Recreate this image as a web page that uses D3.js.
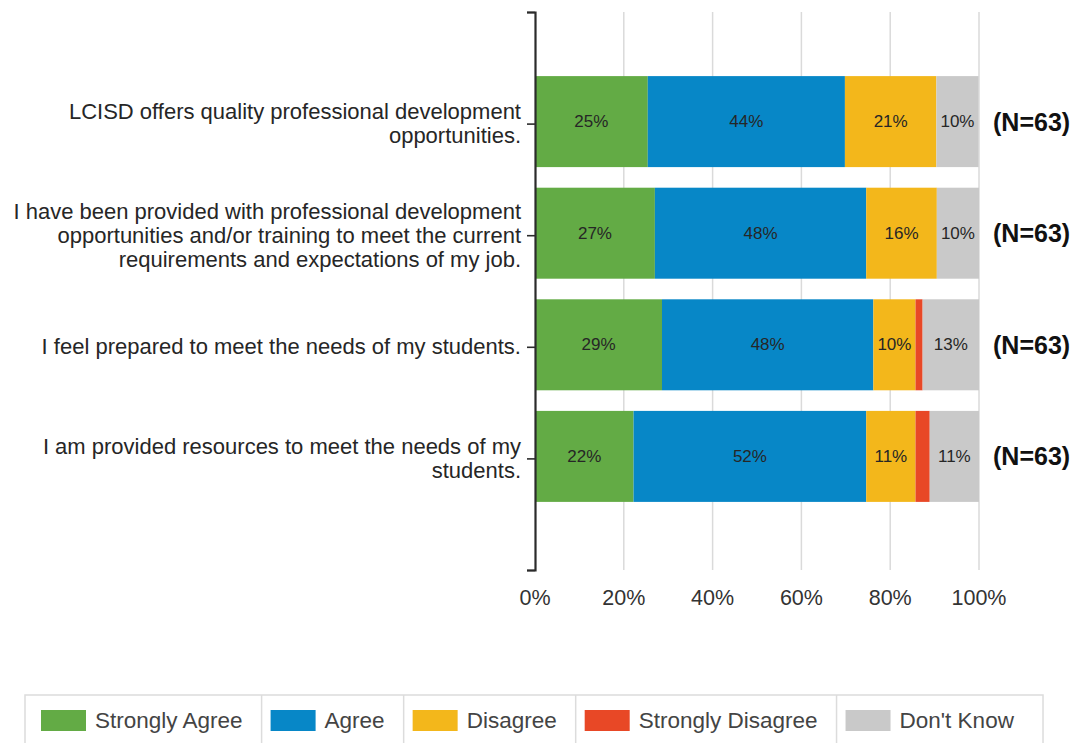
<!DOCTYPE html>
<html>
<head>
<meta charset="utf-8">
<script src="https://cdn.jsdelivr.net/npm/d3@7"></script>
<style>
  body { margin: 0; background: #fff; }
  svg { display: block; font-family: "Liberation Sans", Arial, sans-serif; }
</style>
</head>
<body>
<div id="chart"></div>
<script>
// survey statements, already broken into lines the way the report wraps them
let questions = [
  ["LCISD offers quality professional development", "opportunities."],
  ["I have been provided with professional development", "opportunities and/or training to meet the current", "requirements and expectations of my job."],
  ["I feel prepared to meet the needs of my students."],
  ["I am provided resources to meet the needs of my", "students."]
];
let responses = ["Strongly Agree", "Agree", "Disagree", "Strongly Disagree", "Don't Know"];
let colors = ["#63ab45", "#0787c7", "#f3b71b", "#e84826", "#c9c9c9"];

// percent of respondents per answer, one array per response
let stronglyAgree    = [25.4, 27.0, 28.6, 22.2];
let agree            = [44.4, 47.6, 47.6, 52.4];
let disagree         = [20.6, 15.9, 9.5, 11.1];
let stronglyDisagree = [0, 0, 1.6, 3.2];
let dontKnow         = [9.5, 9.5, 12.7, 11.1];
let nCounts = [63, 63, 63, 63];
let xTicks = [0, 20, 40, 60, 80, 100];

let width = 1074, height = 743;

const svg = d3.select("#chart")
  .append("svg")
  .attr("width", width)
  .attr("height", height);

let series = [stronglyAgree, agree, disagree, stronglyDisagree, dontKnow];

let x = d3.scaleLinear().domain([0, 100]).range([535, 979]);

// point scale: slot 0 and 5 are the empty ends of the axis
let y = d3.scalePoint().domain(d3.range(questions.length + 2)).range([12, 570]);
let barH = 91;

// grid
svg.append("g")
  .selectAll("line")
  .data(xTicks.slice(1))
  .join("line")
  .attr("x1", d => x(d)).attr("x2", d => x(d))
  .attr("y1", 12).attr("y2", 570)
  .attr("stroke", "#dadada")
  .attr("stroke-width", 1.5);

// stacked bars
questions.forEach((q, i) => {
  let cy = y(i + 1) - 2;
  let acc = 0;
  let g = svg.append("g");
  series.forEach((s, k) => {
    let v = s[i];
    if (v > 0) {
      g.append("rect")
        .attr("x", x(acc))
        .attr("y", cy - barH / 2)
        .attr("width", x(acc + v) - x(acc))
        .attr("height", barH)
        .attr("fill", colors[k]);
      if (v >= 5) {
        g.append("text")
          .attr("x", (x(acc) + x(acc + v)) / 2)
          .attr("y", cy)
          .attr("text-anchor", "middle")
          .attr("dominant-baseline", "central")
          .attr("font-size", 17)
          .attr("fill", "#262626")
          .text(Math.round(v) + "%");
      }
    }
    acc += v;
  });

  svg.append("text")
    .attr("x", 993)
    .attr("y", cy)
    .attr("dominant-baseline", "central")
    .attr("font-size", 25)
    .attr("font-weight", "bold")
    .attr("fill", "#111")
    .text(`(N=${nCounts[i]})`);
});

// left axis with category labels
let yAxis = svg.append("g")
  .attr("transform", "translate(535,0)")
  .call(d3.axisLeft(y).tickSize(8).tickPadding(6).tickFormat(""));

yAxis.select(".domain").attr("stroke", "#2b2b2b").attr("stroke-width", 2.2);
yAxis.selectAll(".tick line").attr("stroke", "#2b2b2b").attr("stroke-width", 1.6);

yAxis.selectAll(".tick text").each(function (d) {
  let lines = questions[d - 1];
  if (!lines) return;
  let t = d3.select(this)
    .attr("font-size", 22)
    .attr("fill", "#262626")
    .attr("font-family", "Liberation Sans, Arial, sans-serif");
  let lh = 24;
  lines.forEach((l, j) => {
    t.append("tspan")
      .attr("x", -14)
      .attr("dy", j === 0 ? (-(lines.length - 1) / 2 * lh + 7) : lh)
      .text(l);
  });
}).attr("dy", null);

// x tick labels
svg.append("g")
  .selectAll("text")
  .data(xTicks)
  .join("text")
  .attr("x", d => x(d))
  .attr("y", 605)
  .attr("text-anchor", "middle")
  .attr("font-size", 21.5)
  .attr("fill", "#333")
  .text(d => d + "%");

// legend strip at the bottom
let legend = svg.append("g");
legend.append("rect")
  .attr("x", 25).attr("y", 695)
  .attr("width", 1018).attr("height", 60)
  .attr("fill", "none").attr("stroke", "#dcdcdc").attr("stroke-width", 1.5);

let lx = 25;
responses.forEach((r, k) => {
  let sx = lx + (k === 0 ? 16 : 9);
  legend.append("rect")
    .attr("x", sx).attr("y", 710)
    .attr("width", 45).attr("height", 21)
    .attr("fill", colors[k]);
  let t = legend.append("text")
    .attr("x", sx + 54).attr("y", 728)
    .attr("font-size", 22.5)
    .attr("fill", "#444")
    .text(r);
  let end = sx + 54 + t.node().getComputedTextLength();
  lx = end + 19;
  if (k < responses.length - 1) {
    legend.append("line")
      .attr("x1", lx).attr("x2", lx)
      .attr("y1", 695).attr("y2", 743)
      .attr("stroke", "#dcdcdc").attr("stroke-width", 1.5);
  }
});
</script>
</body>
</html>
